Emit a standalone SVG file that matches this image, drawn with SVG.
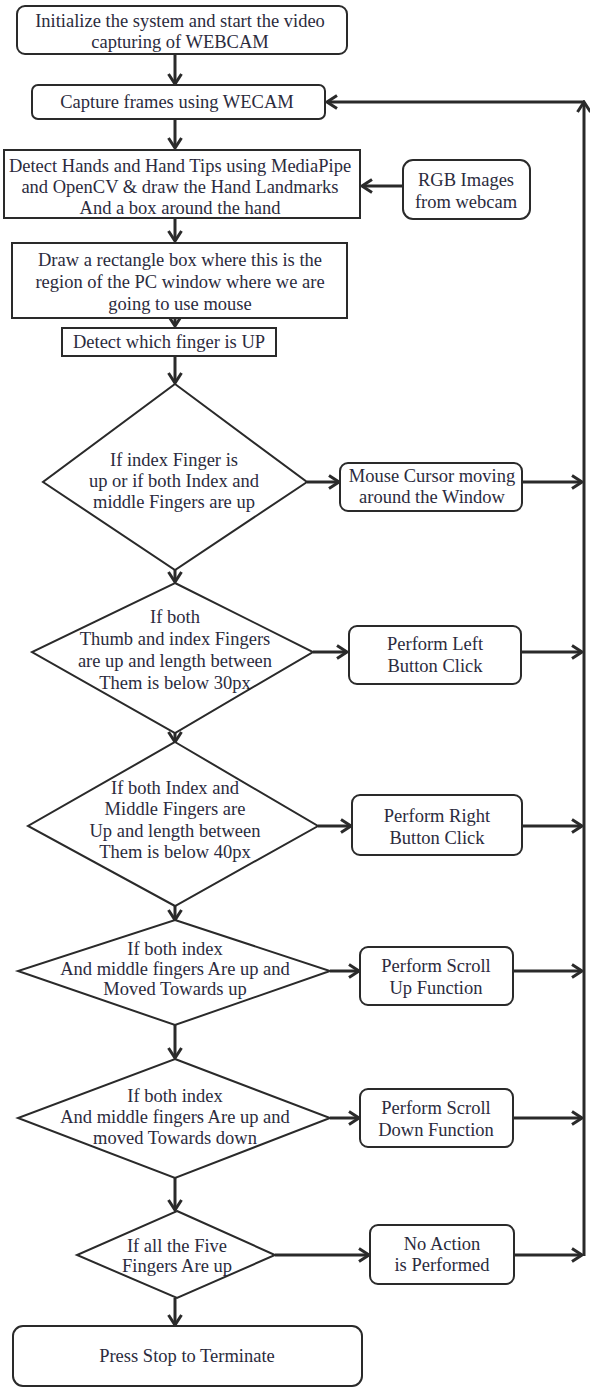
<svg xmlns="http://www.w3.org/2000/svg" width="590" height="1389" viewBox="0 0 590 1389">
<defs>
<style>
.b{fill:#fff;stroke:#2a2a2a;stroke-width:2}
.t{font-family:"Liberation Serif","Times New Roman",serif;font-size:18.5px;fill:#2b2b3d;text-anchor:middle;dominant-baseline:central}
.c{fill:none;stroke:#2a2a2a;stroke-width:3}
</style>
<marker id="ah" viewBox="0 0 14 16" refX="12" refY="8" markerWidth="14" markerHeight="16" markerUnits="userSpaceOnUse" orient="auto">
<path d="M2,1.5 L12,8 L2,14.5" fill="none" stroke="#2a2a2a" stroke-width="3"/>
</marker>
</defs>
<g id="connectors">
<line class="c" x1="175" y1="54" x2="175" y2="84" marker-end="url(#ah)"/>
<line class="c" x1="175" y1="119" x2="175" y2="148" marker-end="url(#ah)"/>
<line class="c" x1="403" y1="186" x2="362" y2="186" marker-end="url(#ah)"/>
<line class="c" x1="175" y1="219" x2="175" y2="241" marker-end="url(#ah)"/>
<line class="c" x1="175" y1="319" x2="175" y2="326" marker-end="url(#ah)"/>
<line class="c" x1="175" y1="356" x2="175" y2="383" marker-end="url(#ah)"/>
<line class="c" x1="307" y1="482" x2="339" y2="482" marker-end="url(#ah)"/>
<line class="c" x1="522" y1="482" x2="582" y2="482" marker-end="url(#ah)"/>
<line class="c" x1="175" y1="570" x2="175" y2="582" marker-end="url(#ah)"/>
<line class="c" x1="313" y1="652" x2="347" y2="652" marker-end="url(#ah)"/>
<line class="c" x1="521" y1="652" x2="582" y2="652" marker-end="url(#ah)"/>
<line class="c" x1="175" y1="733" x2="175" y2="742" marker-end="url(#ah)"/>
<line class="c" x1="318" y1="826" x2="351" y2="826" marker-end="url(#ah)"/>
<line class="c" x1="522" y1="826" x2="582" y2="826" marker-end="url(#ah)"/>
<line class="c" x1="175" y1="906" x2="175" y2="920" marker-end="url(#ah)"/>
<line class="c" x1="330" y1="971" x2="359" y2="971" marker-end="url(#ah)"/>
<line class="c" x1="513" y1="971" x2="582" y2="971" marker-end="url(#ah)"/>
<line class="c" x1="175" y1="1025" x2="175" y2="1058" marker-end="url(#ah)"/>
<line class="c" x1="330" y1="1118" x2="359" y2="1118" marker-end="url(#ah)"/>
<line class="c" x1="513" y1="1118" x2="582" y2="1118" marker-end="url(#ah)"/>
<line class="c" x1="175" y1="1178" x2="175" y2="1210" marker-end="url(#ah)"/>
<line class="c" x1="275" y1="1255" x2="369" y2="1255" marker-end="url(#ah)"/>
<line class="c" x1="514" y1="1255" x2="582" y2="1255" marker-end="url(#ah)"/>
<line class="c" x1="175" y1="1298" x2="175" y2="1325" marker-end="url(#ah)"/>
<line class="c" x1="584" y1="1256" x2="584" y2="102" marker-end="url(#ah)"/>
<line class="c" x1="584" y1="102" x2="327" y2="102" marker-end="url(#ah)"/>
</g>
<g id="n1">
<rect class="b" x="17" y="6" width="330" height="48" rx="8"/>
<text class="t" x="180" y="21">Initialize the system and start the video</text>
<text class="t" x="180" y="42">capturing of WEBCAM</text>
</g>
<g id="n2">
<rect class="b" x="32" y="85" width="293" height="34" rx="6"/>
<text class="t" x="177" y="102">Capture frames using WECAM</text>
</g>
<g id="n3">
<rect class="b" x="4" y="150" width="356" height="68"/>
<text class="t" x="180" y="166">Detect Hands and Hand Tips using MediaPipe</text>
<text class="t" x="180" y="187">and OpenCV &amp; draw the Hand Landmarks</text>
<text class="t" x="180" y="208">And a box around the hand</text>
</g>
<g id="n4">
<rect class="b" x="403" y="160" width="127" height="59" rx="10"/>
<text class="t" x="466" y="180">RGB Images</text>
<text class="t" x="466" y="202">from webcam</text>
</g>
<g id="n5">
<rect class="b" x="12" y="243" width="335" height="75"/>
<text class="t" x="180" y="260">Draw a rectangle box where this is the</text>
<text class="t" x="180" y="282">region of the PC window where we are</text>
<text class="t" x="180" y="304">going to use mouse</text>
</g>
<g id="n6">
<rect class="b" x="62" y="328" width="214" height="28"/>
<text class="t" x="169" y="342">Detect which finger is UP</text>
</g>
<g id="n7">
<polygon class="b" points="175,384 307,482 175,570 43,482"/>
<text class="t" x="174" y="460">If index Finger is</text>
<text class="t" x="174" y="481">up or if both Index and</text>
<text class="t" x="174" y="502">middle Fingers are up</text>
</g>
<g id="n8">
<rect class="b" x="340" y="463" width="182" height="48" rx="8"/>
<text class="t" x="432" y="476">Mouse Cursor moving</text>
<text class="t" x="432" y="497">around the Window</text>
</g>
<g id="n9">
<polygon class="b" points="175,583 313,652 175,733 32,652"/>
<text class="t" x="175" y="617">If both</text>
<text class="t" x="175" y="639">Thumb and index Fingers</text>
<text class="t" x="175" y="661">are up and length between</text>
<text class="t" x="175" y="683">Them is below 30px</text>
</g>
<g id="n10">
<rect class="b" x="349" y="626" width="172" height="58" rx="8"/>
<text class="t" x="435" y="644">Perform Left</text>
<text class="t" x="435" y="666">Button Click</text>
</g>
<g id="n11">
<polygon class="b" points="175,742 318,826 175,906 28,826"/>
<text class="t" x="175" y="788">If both Index and</text>
<text class="t" x="175" y="809">Middle Fingers are</text>
<text class="t" x="175" y="831">Up and length between</text>
<text class="t" x="175" y="852">Them is below 40px</text>
</g>
<g id="n12">
<rect class="b" x="352" y="795" width="170" height="60" rx="8"/>
<text class="t" x="437" y="816">Perform Right</text>
<text class="t" x="437" y="838">Button Click</text>
</g>
<g id="n13">
<polygon class="b" points="175,920 330,971 175,1025 18,971"/>
<text class="t" x="175" y="949">If both index</text>
<text class="t" x="175" y="969">And middle fingers Are up and</text>
<text class="t" x="175" y="989">Moved Towards up</text>
</g>
<g id="n14">
<rect class="b" x="360" y="947" width="153" height="58" rx="8"/>
<text class="t" x="436" y="966">Perform Scroll</text>
<text class="t" x="436" y="988">Up Function</text>
</g>
<g id="n15">
<polygon class="b" points="175,1059 330,1118 175,1178 18,1118"/>
<text class="t" x="175" y="1096">If both index</text>
<text class="t" x="175" y="1117">And middle fingers Are up and</text>
<text class="t" x="175" y="1138">moved Towards down</text>
</g>
<g id="n16">
<rect class="b" x="360" y="1089" width="153" height="58" rx="8"/>
<text class="t" x="436" y="1108">Perform Scroll</text>
<text class="t" x="436" y="1130">Down Function</text>
</g>
<g id="n17">
<polygon class="b" points="177,1211 275,1255 177,1298 77,1255"/>
<text class="t" x="177" y="1246">If all the Five</text>
<text class="t" x="177" y="1266">Fingers Are up</text>
</g>
<g id="n18">
<rect class="b" x="370" y="1225" width="144" height="59" rx="8"/>
<text class="t" x="442" y="1244">No Action</text>
<text class="t" x="442" y="1265">is Performed</text>
</g>
<g id="n19">
<rect class="b" x="13" y="1326" width="349" height="60" rx="10"/>
<text class="t" x="187" y="1356">Press Stop to Terminate</text>
</g>
</svg>
